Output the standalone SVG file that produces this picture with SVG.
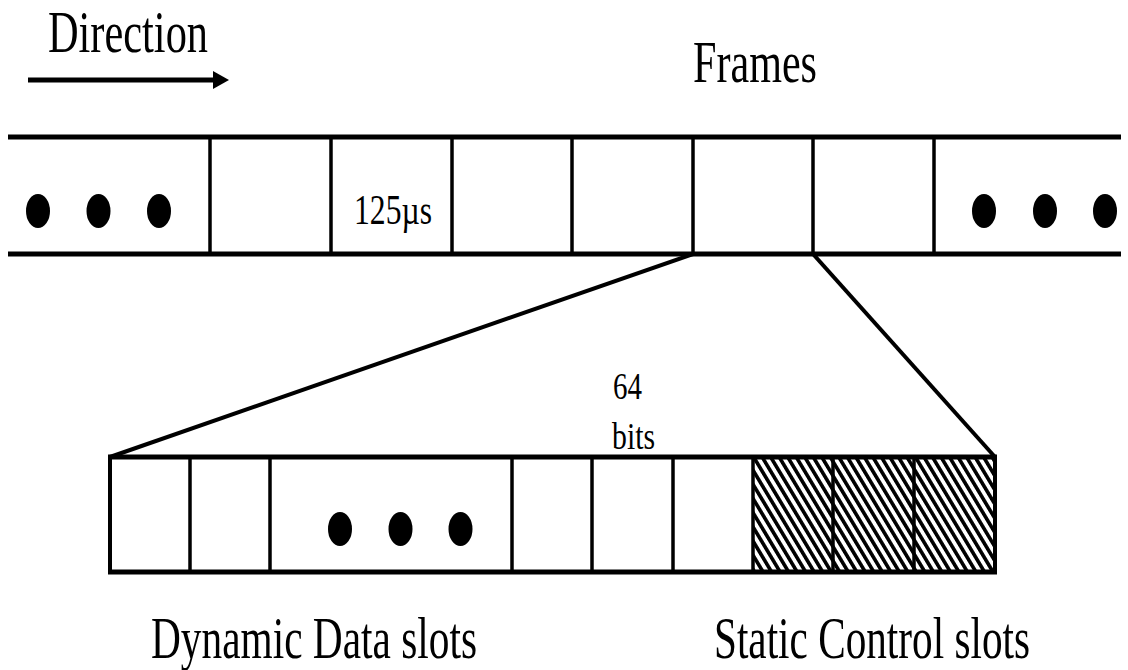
<svg xmlns="http://www.w3.org/2000/svg" width="1128" height="670" viewBox="0 0 1128 670">
<style>
.t{font-family:"Liberation Serif","Times New Roman",serif;fill:#000}
.h{stroke:#000;stroke-width:5;fill:none}
.v{stroke:#000;stroke-width:3.5;fill:none}
.c{stroke:#000;stroke-width:4;fill:none}
.dot{fill:#000}
</style>
<defs>
<pattern id="hatch" patternUnits="userSpaceOnUse" width="7.3" height="20" patternTransform="rotate(-31)">
<rect x="0" y="0" width="3.6" height="20" fill="#000"/>
</pattern>
</defs>
<rect width="1128" height="670" fill="#fff"/>

<g id="direction">
<text class="t" x="48" y="52" font-size="60" textLength="160" lengthAdjust="spacingAndGlyphs">Direction</text>
<line x1="28" y1="80" x2="216" y2="80" stroke="#000" stroke-width="5"/>
<polygon points="213,71 229,80 213,89" fill="#000"/>
</g>

<g id="frames-label">
<text class="t" x="693" y="82" font-size="60" textLength="124" lengthAdjust="spacingAndGlyphs">Frames</text>
</g>

<g id="frame-bar">
<line class="h" x1="8" y1="137" x2="1121" y2="137"/>
<line class="h" x1="8" y1="254" x2="1121" y2="254"/>
<line class="v" x1="210" y1="137" x2="210" y2="254"/>
<line class="v" x1="331" y1="137" x2="331" y2="254"/>
<line class="v" x1="452" y1="137" x2="452" y2="254"/>
<line class="v" x1="572" y1="137" x2="572" y2="254"/>
<line class="v" x1="693" y1="137" x2="693" y2="254"/>
<line class="v" x1="813" y1="137" x2="813" y2="254"/>
<line class="v" x1="934" y1="137" x2="934" y2="254"/>
<ellipse class="dot" cx="38" cy="211" rx="12" ry="17"/>
<ellipse class="dot" cx="98.5" cy="211" rx="12" ry="17"/>
<ellipse class="dot" cx="159" cy="211" rx="12" ry="17"/>
<ellipse class="dot" cx="984" cy="211" rx="12" ry="17"/>
<ellipse class="dot" cx="1045" cy="211" rx="12" ry="17"/>
<ellipse class="dot" cx="1105" cy="211" rx="12" ry="17"/>
<text class="t" x="354" y="224" font-size="42" textLength="78" lengthAdjust="spacingAndGlyphs">125µs</text>
</g>

<g id="connectors">
<line class="c" x1="693" y1="254" x2="110" y2="457"/>
<line class="c" x1="813" y1="254" x2="995" y2="457"/>
</g>

<g id="slot-bar">
<rect x="753" y="457" width="242" height="115" fill="url(#hatch)"/>
<line class="h" x1="108" y1="457" x2="997" y2="457"/>
<line class="h" x1="108" y1="572" x2="997" y2="572"/>
<line class="c" x1="110" y1="457" x2="110" y2="572"/>
<line class="v" x1="190" y1="457" x2="190" y2="572"/>
<line class="v" x1="270" y1="457" x2="270" y2="572"/>
<line class="v" x1="512" y1="457" x2="512" y2="572"/>
<line class="v" x1="592" y1="457" x2="592" y2="572"/>
<line class="v" x1="673" y1="457" x2="673" y2="572"/>
<line class="v" x1="753" y1="457" x2="753" y2="572"/>
<line class="v" x1="833" y1="457" x2="833" y2="572"/>
<line class="v" x1="914" y1="457" x2="914" y2="572"/>
<line class="c" x1="995" y1="457" x2="995" y2="572"/>
<ellipse class="dot" cx="340" cy="529" rx="12" ry="17"/>
<ellipse class="dot" cx="400.5" cy="529" rx="12" ry="17"/>
<ellipse class="dot" cx="460.5" cy="529" rx="12" ry="17"/>
<text class="t" x="613" y="399" font-size="38" textLength="29" lengthAdjust="spacingAndGlyphs">64</text>
<text class="t" x="612" y="449" font-size="38" textLength="43" lengthAdjust="spacingAndGlyphs">bits</text>
</g>

<g id="labels">
<text class="t" x="151" y="658" font-size="60" textLength="326" lengthAdjust="spacingAndGlyphs">Dynamic Data slots</text>
<text class="t" x="714" y="658" font-size="60" textLength="316" lengthAdjust="spacingAndGlyphs">Static Control slots</text>
</g>
</svg>
